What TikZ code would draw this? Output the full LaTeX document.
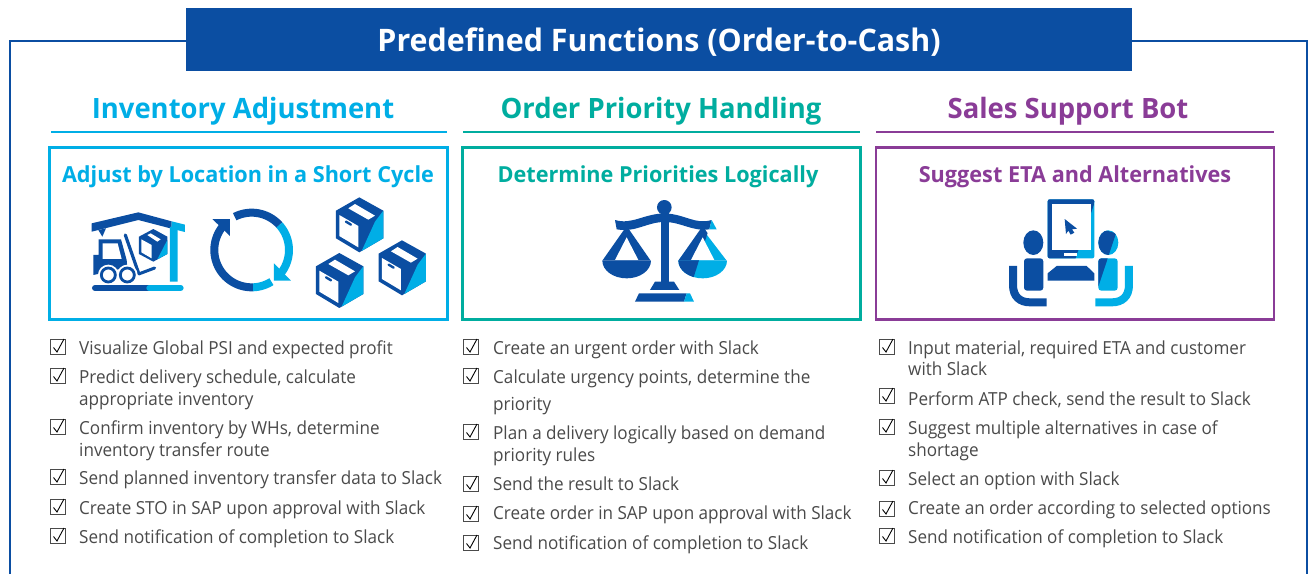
\documentclass[tikz,border=0pt]{standalone}
\usepackage{fontspec}
\setmainfont{Open Sans}
\newfontfamily\bodyfont[FakeStretch=0.95]{Open Sans}
\newfontfamily\headfont[FakeStretch=0.98]{Open Sans}
\definecolor{dk}{HTML}{0B4EA2}
\definecolor{lt}{HTML}{00AEE6}
\definecolor{tl}{HTML}{00AD9F}
\definecolor{pu}{HTML}{8A3C97}
\definecolor{gr}{HTML}{4A4A4A}
\tikzset{
  itemtext/.style={anchor=base west,inner sep=0pt,font=\bodyfont\fontsize{18}{20}\selectfont,text=gr},
  colhead/.style={inner sep=0pt,font=\headfont\bfseries\fontsize{28}{30}\selectfont},
  subhead/.style={inner sep=0pt,font=\headfont\bfseries\fontsize{22.1}{26}\selectfont},
  panel/.style={line width=2.1pt,fill=white},
  rulebar/.style={line width=2.6pt},
  ico/.style={shift={(#1)},scale=0.3333},
}
\newcommand\chk[3]{%
  \node[draw=gr,line width=0.7pt,minimum size=15.5pt,inner sep=0pt,anchor=center] (#1) at (#2,#3) {};
  \draw[black,line width=0.9pt] ($(#1.center)+(-4.5,0.5)$) -- ($(#1.center)+(-1,5)$) -- ($(#1.center)+(6,-8)$);
}
\newcommand\itm[4]{\node[itemtext] (#1) at (#2,#3+6) {#4};}
\newcommand\cbox[1]{%
  \begin{scope}[shift={(#1)}]
    \fill[dk] (0,-83)--(72,-43)--(72,40)--(0,82)--(-70,40)--(-70,-43)--cycle;
    \fill[lt] (72,-43)--(72,40)--(7,78)--(47,-10)--cycle;
    \fill[white] (-60,-30)--(-3,3)--(-3,67)--(-60,33)--cycle;
    \fill[white] (-33,-50)--(-13,-63)--(47,-28)--(27,-16)--cycle;
    \draw[dk,line width=2.4pt,line cap=round] (-40,-10)--(-25,-1);
  \end{scope}}
\usetikzlibrary{calc}
\begin{document}
\begin{tikzpicture}[x=1pt,y=-1pt]
\useasboundingbox (0,0) rectangle (1315,574);
\fill[white] (0,0) rectangle (1315,574);
% frame
\coordinate (fa) at (10,574); \coordinate (fb) at (10,41); \coordinate (fc) at (1307,41); \coordinate (fd) at (1307,574);
\draw[dk,line width=2.4pt] (fa)--(fb)--(fc)--(fd);
\node[fill=dk,minimum width=946pt,minimum height=63pt,inner sep=0pt] (banner) at (659,39.5) {};
\node[text=white,inner sep=0pt,font=\headfont\bfseries\fontsize{31}{34}\selectfont] (title) at (659,42.5) {Predefined Functions (Order-to-Cash)};
% column headings
\node[colhead,text=lt] (h1) at (243,111) {Inventory Adjustment};
\node[colhead,text=tl] (h2) at (661,111) {Order Priority Handling};
\node[colhead,text=pu] (h3) at (1068,111) {Sales Support Bot};
\draw[rulebar,lt] (51,132)--(447,132);
\draw[rulebar,tl] (463,132)--(860,132);
\draw[rulebar,pu] (876,132)--(1274,132);
% panels
\node[panel,draw=lt,minimum width=398pt,minimum height=172pt,inner sep=0pt] (p1) at (248.5,233.5) {};
\node[panel,draw=tl,minimum width=398pt,minimum height=172pt,inner sep=0pt] (p2) at (661.5,233.5) {};
\node[panel,draw=pu,minimum width=398pt,minimum height=172pt,inner sep=0pt] (p3) at (1075,233.5) {};
\node[subhead,text=lt] (s1) at (248,177) {Adjust by Location in a Short Cycle};
\node[subhead,text=tl] (s2) at (658,177) {Determine Priorities Logically};
\node[subhead,text=pu] (s3) at (1075,177) {Suggest ETA and Alternatives};
% warehouse icon
\begin{scope}[ico={50,180}]
  \fill[dk] (125,130)--(265,97)--(365,124)--(365,146)--(265,120)--(125,155)--cycle;
  \fill[lt] (365,124)--(405,134)--(405,156)--(365,146)--cycle;
  \fill[dk] (145,150)--(168,145)--(157,170)--cycle;
  \fill[lt] (360,140)--(383,146)--(383,305)--(360,305)--cycle;
  \fill[dk] (130,225)--(146,225)--(146,178)--(213,178)--(230,240)--(232,262)--(130,285)--cycle;
  \fill[white] (158,190)--(203,190)--(215,237)--(158,237)--cycle;
  \draw[dk,line width=3.2pt,line cap=round] (226,165)--(266,280);
  \draw[dk,line width=3pt,line cap=round] (266,282)--(314,264);
  \fill[white] (175,285) circle (31);
  \fill[white] (232,285) circle (31);
  \draw[dk,line width=2.8pt] (175,285) circle (21);
  \draw[dk,line width=2.8pt] (232,285) circle (21);
  \fill[dk] (310,147)--(352,170)--(352,222)--(310,245)--(267,222)--(267,170)--cycle;
  \fill[lt] (352,180)--(352,222)--(322,238)--cycle;
  \fill[white] (274,178)--(305,195)--(305,235)--(274,217)--cycle;
  \fill[white] (292,165)--(302,160)--(332,178)--(322,185)--cycle;
  \draw[dk,line width=6pt,line cap=round] (135,324)--(298,324);
  \draw[lt,line width=6pt,line cap=round] (392,324)--(298,324);
  % cycle
  \draw[dk,line width=8pt] plot[domain=117:42,samples=30] ({605+112*cos(\x)},{210-112*sin(\x)});
  \draw[lt,line width=8pt] plot[domain=42:-40,samples=30] ({605+112*cos(\x)},{210-112*sin(\x)});
  \draw[lt,line width=8pt] plot[domain=-58:-88,samples=20] ({605+112*cos(\x)},{210-112*sin(\x)});
  \draw[dk,line width=8pt] plot[domain=-88:-218,samples=40] ({605+112*cos(\x)},{210-112*sin(\x)});
  \fill[dk] (487,117)--(540,117)--(540,168)--cycle;
  \fill[lt] (672,250)--(723,302)--(672,302)--cycle;
  % boxes
  \cbox{928,135}
  \cbox{868,302}
  \cbox{1056,264}
\end{scope}
% scales icon
\begin{scope}[ico={560,190}]
  \fill[dk] (313,52) circle (22);
  \fill[dk] (302,60) rectangle (326,280);
  \fill[dk] (270,300)--(285,275)--(342,275)--(358,300)--cycle;
  \fill[dk] (225,335)--(237,310)--(380,310)--(372,335)--cycle;
  \fill[lt] (380,310)--(390,310)--(402,335)--(372,335)--cycle;
  \fill[dk] (165,90)..controls (215,105) and (250,72)..(313,70)..controls (375,72) and (405,105)..(455,90)
     --(448,118)..controls (395,125) and (365,96)..(313,96)..controls (260,96) and (230,128)..(170,118)--cycle;
  \fill[lt] (455,90)--(470,118)--(448,118)--cycle;
  % left pan
  \fill[dk] (200,108)--(272,212)--(127,212)--cycle;
  \fill[white] (200,142)--(235,210)--(165,210)--cycle;
  \fill[dk] (127,212) arc[start angle=180,delta angle=-180,x radius=73,y radius=53];
  % right pan
  \fill[lt] (428,118)--(500,212)--(355,212)--cycle;
  \fill[lt] (355,212) arc[start angle=180,delta angle=-180,x radius=73,y radius=53];
  \begin{scope}
    \clip (300,100)--(452,100)--(400,265)--(300,265)--cycle;
    \fill[dk] (428,108)--(500,212)--(355,212)--cycle;
    \fill[dk] (355,212) arc[start angle=180,delta angle=-180,x radius=73,y radius=53];
  \end{scope}
  \fill[white] (428,142)--(463,210)--(393,210)--cycle;
\end{scope}
% people icon
\begin{scope}[ico={980,190}]
  \fill[lt,rounded corners=2pt] (203,28) rectangle (343,205);
  \begin{scope}
    \clip (190,20)--(350,20)--(285,210)--(190,210)--cycle;
    \fill[dk,rounded corners=2pt] (203,28) rectangle (343,205);
  \end{scope}
  \fill[white] (215,42) rectangle (332,180);
  \fill[white] (253,188) rectangle (292,198);
  \fill[dk] (254,87)--(291,116)--(276,118)--(283,128)--(272,134)--(265,122)--(258,132)--cycle;
  \fill[dk] (203,250)--(230,228)--(320,228)--(343,250)--(343,272)--(203,272)--cycle;
  \fill[dk] (160,158) ellipse [x radius=30,y radius=37];
  \fill[dk,rounded corners=3pt] (132,205) rectangle (190,302);
  \fill[lt] (385,158) ellipse [x radius=30,y radius=37];
  \fill[lt,rounded corners=3pt] (355,205) rectangle (413,302);
  \begin{scope}
    \clip (340,110)--(408,130)--(355,290)--(340,290)--cycle;
    \fill[dk] (385,158) ellipse [x radius=30,y radius=37];
    \fill[dk,rounded corners=3pt] (355,205) rectangle (413,302);
  \end{scope}
  \draw[dk,line width=8pt] (99,228)--(99,285) .. controls (99,320) and (120,337) .. (150,337)--(200,337);
  \draw[lt,line width=8pt] (447,228)--(447,285) .. controls (447,320) and (426,337) .. (396,337)--(346,337);
\end{scope}
% column 1
\chk{a1}{58}{347} \itm{ta1}{79}{348}{Visualize Global PSI and expected profit}
\chk{a2}{58}{376} \itm{ta2}{79}{377}{Predict delivery schedule, calculate}
\itm{ta2b}{79}{399}{appropriate inventory}
\chk{a3}{58}{427} \itm{ta3}{79}{428}{Confirm inventory by WHs, determine}
\itm{ta3b}{79}{450}{inventory transfer route}
\chk{a4}{58}{477} \itm{ta4}{79}{478}{Send planned inventory transfer data to Slack}
\chk{a5}{58}{507} \itm{ta5}{79}{508}{Create STO in SAP upon approval with Slack}
\chk{a6}{58}{536} \itm{ta6}{79}{537}{Send notification of completion to Slack}
% column 2
\chk{b1}{471}{347} \itm{tb1}{493}{348}{Create an urgent order with Slack}
\chk{b2}{471}{376} \itm{tb2}{493}{377}{Calculate urgency points, determine the}
\itm{tb2b}{493}{404}{priority}
\chk{b3}{471}{432} \itm{tb3}{493}{433}{Plan a delivery logically based on demand}
\itm{tb3b}{493}{455}{priority rules}
\chk{b4}{471}{484} \itm{tb4}{493}{484}{Send the result to Slack}
\chk{b5}{471}{514} \itm{tb5}{493}{513}{Create order in SAP upon approval with Slack}
\chk{b6}{471}{543} \itm{tb6}{493}{543}{Send notification of completion to Slack}
% column 3
\chk{c1}{887}{347} \itm{tc1}{908}{348}{Input material, required ETA and customer}
\itm{tc1b}{908}{369}{with Slack}
\chk{c2}{887}{396} \itm{tc2}{908}{399}{Perform ATP check, send the result to Slack}
\chk{c3}{887}{427} \itm{tc3}{908}{428}{Suggest multiple alternatives in case of}
\itm{tc3b}{908}{450}{shortage}
\chk{c4}{887}{478} \itm{tc4}{908}{479}{Select an option with Slack}
\chk{c5}{887}{509} \itm{tc5}{908}{508}{Create an order according to selected options}
\chk{c6}{887}{536} \itm{tc6}{908}{537}{Send notification of completion to Slack}
\end{tikzpicture}
\end{document}
